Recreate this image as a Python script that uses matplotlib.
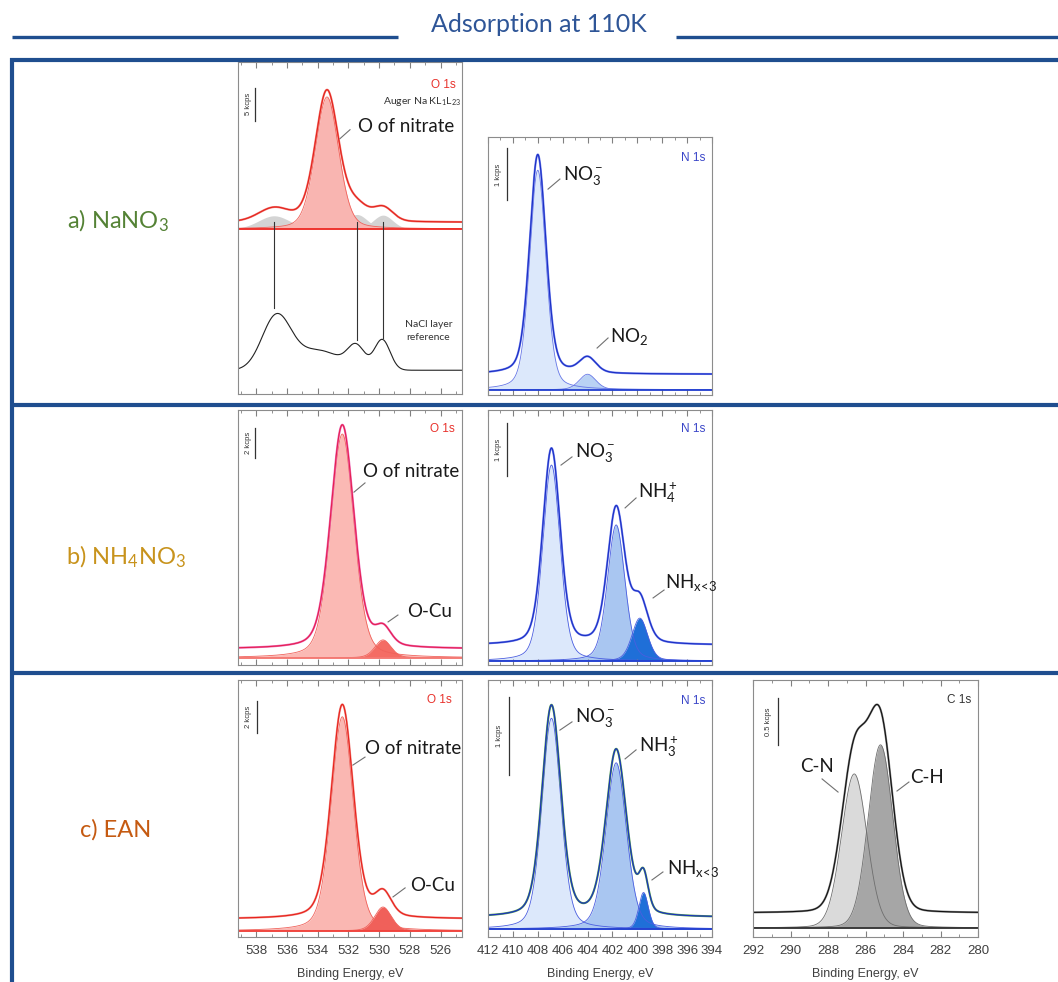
import numpy as np
import matplotlib.pyplot as plt
from matplotlib.lines import Line2D

plt.rcParams['font.family'] = ['Lato', 'DejaVu Sans']
plt.rcParams['mathtext.fontset'] = 'custom'
plt.rcParams['mathtext.rm'] = 'Lato'
plt.rcParams['mathtext.it'] = 'Lato:italic'
plt.rcParams['mathtext.bf'] = 'Lato:bold'

W, H = 1058, 982

# --- data (kcps, eV) ---
# a) NaNO3, O 1s
o1s_a_centers = [533.4]
o1s_a_heights = [20.0]
o1s_a_fwhm = [1.8]
auger_centers = [536.85, 531.45, 529.75]
auger_heights = [2.0, 2.2, 2.1]
auger_fwhm = [2.4, 1.6, 1.5]
o1s_a_bg = 1.0
nacl_centers = [536.7, 534.0, 531.5, 529.8]
nacl_heights = [8.0, 3.0, 3.3, 4.6]
nacl_fwhm = [2.2, 3.5, 1.3, 1.2]
nacl_bg = -21.4
auger_line_bottoms = [-12.0, -16.8, -16.5]

# a) NaNO3, N 1s  (NO3-, NO2)
n1s_a_centers = [408.0, 404.0]
n1s_a_heights = [4.23, 0.30]
n1s_a_fwhm = [1.55, 1.6]
n1s_a_bg = 0.30

# b) NH4NO3, O 1s  (O of nitrate, O-Cu)
o1s_b_centers = [532.4, 529.75]
o1s_b_heights = [14.9, 1.2]
o1s_b_fwhm = [1.8, 1.25]
o1s_b_bg = 0.6

# b) NH4NO3, N 1s  (NO3-, NH4+, NHx<3)
n1s_b_centers = [406.9, 401.7, 399.8]
n1s_b_heights = [3.7, 2.57, 0.81]
n1s_b_fwhm = [1.65, 1.65, 1.5]
n1s_b_bg = 0.30

# c) EAN, O 1s
o1s_c_centers = [532.4, 529.75]
o1s_c_heights = [13.4, 1.5]
o1s_c_fwhm = [1.7, 1.3]
o1s_c_bg = 0.75

# c) EAN, N 1s  (NO3-, NH3+, NHx<3)
n1s_c_centers = [406.9, 401.7, 399.5]
n1s_c_heights = [2.7, 2.13, 0.47]
n1s_c_fwhm = [1.8, 1.95, 0.9]
n1s_c_bg = 0.15

# c) EAN, C 1s  (C-N, C-H)
c1s_c_centers = [286.6, 285.2]
c1s_c_heights = [1.64, 1.95]
c1s_c_fwhm = [1.6, 1.55]
c1s_c_bg = 0.16

o1s_range = (539.2, 524.6)
n1s_range = (412.0, 394.0)
c1s_range = (292.0, 280.0)
o1s_ticks = [538, 536, 534, 532, 530, 528, 526]
n1s_ticks = [412, 410, 408, 406, 404, 402, 400, 398, 396, 394]
c1s_ticks = [292, 290, 288, 286, 284, 282, 280]

fig = plt.figure(figsize=(W / 100, H / 100), dpi=100)


def px_axes(l, t, r, b):
    return fig.add_axes([l / W, 1 - b / H, (r - l) / W, (b - t) / H])


def pvoigt(x, c, h, w, eta):
    u = (x - c) / w
    return h * ((1 - eta) * np.exp(-4 * np.log(2) * u ** 2) + eta / (1 + 4 * u ** 2))


def style(ax, xlim, ylim, ticks, labels):
    ax.set_xlim(xlim)
    ax.set_ylim(ylim)
    ax.set_xticks(ticks)
    ax.set_xticks(np.arange(min(ticks) - 1, max(ticks) + 2, 1), minor=True)
    ax.set_xlim(xlim)
    ax.set_yticks([])
    ax.tick_params(axis='x', which='both', direction='in', top=True, bottom=True,
                   color='#808080', labelsize=9.5, labelcolor='#404040',
                   labelbottom=labels, pad=6)
    ax.tick_params(axis='x', which='major', length=4)
    ax.tick_params(axis='x', which='minor', length=2.5)
    for lab in ax.get_xticklabels():
        lab.set_family('Liberation Sans')
    for s in ax.spines.values():
        s.set_color('#8c8c8c')
        s.set_linewidth(0.8)
    if labels:
        ax.set_xlabel('Binding Energy, eV', fontsize=9, color='#404040',
                      family='Liberation Sans', labelpad=8)


def scale_bar(ax, fx, tx, ytop, size, text):
    tr = ax.get_yaxis_transform()
    ax.plot([fx, fx], [ytop, ytop - size], transform=tr, color='#333333', lw=0.9)
    ax.text(tx, ytop - size / 2, text, transform=tr, rotation=90, fontsize=5.5,
            ha='center', va='center', color='#333333', family='Liberation Sans')


def tag(ax, fx, fy, text, color):
    ax.text(fx, fy, text, transform=ax.transAxes, ha='right', va='center',
            fontsize=8.5, color=color, family='Liberation Sans')


def label(ax, fx, fy, text, leader):
    ax.text(fx, fy, text, transform=ax.transAxes, ha='left', va='center',
            fontsize=13.5, color='#1a1a1a')
    (x0, y0), (x1, y1) = leader
    ax.plot([x0, x1], [y0, y1], transform=ax.transAxes, color='#707070', lw=0.8)


def draw_fit(ax, x, centers, heights, fwhm, eta, bg, fills, edge, raw, env, base):
    comps = [pvoigt(x, c, h, w, eta) for c, h, w in zip(centers, heights, fwhm)]
    for comp, fc in zip(comps, fills):
        ax.fill_between(x, 0, comp, color=fc, lw=0)
        ax.plot(x, comp, color=edge, lw=0.6)
    ax.axhline(0, color=base, lw=1.3)
    total = bg + np.sum(comps, axis=0)
    ax.plot(x, total, color=env, lw=1.5)
    ax.plot(x, total, color=raw, lw=0.8)
    return comps


nhx = r'NH$_{\mathrm{x}\!<\!\mathrm{3}}$'

# ---------------- row a ----------------
ax = px_axes(238, 62, 462, 394)
style(ax, o1s_range, (-25.0, 25.3), o1s_ticks, False)
x = np.linspace(*o1s_range, 900)
aug = [pvoigt(x, c, h, w, 0.1) for c, h, w in zip(auger_centers, auger_heights, auger_fwhm)]
for comp in aug:
    ax.fill_between(x, 0, comp, color='#d4d4d4', lw=0)
main = [pvoigt(x, c, h, w, 0.25) for c, h, w in zip(o1s_a_centers, o1s_a_heights, o1s_a_fwhm)]
for comp in main:
    ax.fill_between(x, 0, comp, color='#f9b5b1', lw=0)
    ax.plot(x, comp, color='#f0625b', lw=0.6)
ax.axhline(0, color='#ee2a24', lw=1.3)
total = o1s_a_bg + np.sum(main, axis=0) + np.sum(aug, axis=0)
ax.plot(x, total, color='#f47a74', lw=1.5)
ax.plot(x, total, color='#e3231c', lw=0.8)
nacl = nacl_bg + np.sum([pvoigt(x, c, h, w, 0.0) for c, h, w in
                         zip(nacl_centers, nacl_heights, nacl_fwhm)], axis=0)
ax.plot(x, nacl, color='#222222', lw=0.8)
for c, lb in zip(auger_centers, auger_line_bottoms):
    ax.plot([c, c], [o1s_a_bg, lb], color='#333333', lw=0.8)
tag(ax, 0.973, 0.931, 'O 1s', '#e8322c')
ax.text(0.995, 0.88, 'Auger Na KL$_1$L$_{23}$', transform=ax.transAxes, ha='right',
        va='center', fontsize=7.5, color='#333333')
label(ax, 0.536, 0.805, 'O of nitrate', ((0.455, 0.769), (0.50, 0.796)))
scale_bar(ax, 0.076, 0.045, 21.4, 5, '5 kcps')
ax.text(0.85, 0.19, 'NaCl layer\nreference', transform=ax.transAxes, ha='center',
        va='center', fontsize=7.5, color='#333333', linespacing=1.5)

ax = px_axes(488, 137, 712, 395)
style(ax, n1s_range, (-0.1, 4.87), n1s_ticks, False)
x = np.linspace(*n1s_range, 900)
draw_fit(ax, x, n1s_a_centers, n1s_a_heights, n1s_a_fwhm, 0.3, n1s_a_bg,
         ['#dce8fb', '#b9d2f4'], '#6677e6', '#1b2fc4', '#7080ee', '#2440d0')
tag(ax, 0.969, 0.919, 'N 1s', '#3a46c8')
label(ax, 0.335, 0.849, 'NO$_3^-$', ((0.268, 0.798), (0.321, 0.837)))
label(ax, 0.545, 0.225, 'NO$_2$', ((0.487, 0.182), (0.536, 0.221)))
scale_bar(ax, 0.085, 0.045, 4.65, 1, '1 kcps')

# ---------------- row b ----------------
ax = px_axes(238, 410, 462, 665)
style(ax, o1s_range, (-0.47, 16.5), o1s_ticks, False)
x = np.linspace(*o1s_range, 900)
draw_fit(ax, x, o1s_b_centers, o1s_b_heights, o1s_b_fwhm, 0.3, o1s_b_bg,
         ['#fbb9b4', '#f46c64'], '#f0625b', '#e5204f', '#ee6ab8', '#f47a74')
tag(ax, 0.969, 0.925, 'O 1s', '#e8322c')
label(ax, 0.558, 0.757, 'O of nitrate', ((0.518, 0.678), (0.567, 0.714)))
label(ax, 0.754, 0.208, 'O-Cu', ((0.670, 0.169), (0.714, 0.196)))
scale_bar(ax, 0.076, 0.045, 15.3, 2, '2 kcps')

ax = px_axes(488, 410, 712, 665)
style(ax, n1s_range, (-0.075, 4.74), n1s_ticks, False)
x = np.linspace(*n1s_range, 900)
draw_fit(ax, x, n1s_b_centers, n1s_b_heights, n1s_b_fwhm, 0.3, n1s_b_bg,
         ['#dce8fb', '#a9c6f1', '#1f6fd8'], '#4a5ee0', '#1b2fc4', '#7080ee', '#2440d0')
tag(ax, 0.969, 0.925, 'N 1s', '#3a46c8')
label(ax, 0.388, 0.835, 'NO$_3^-$', ((0.326, 0.784), (0.375, 0.816)))
label(ax, 0.670, 0.675, 'NH$_4^+$', ((0.612, 0.616), (0.661, 0.655)))
label(ax, 0.790, 0.322, nhx, ((0.737, 0.263), (0.786, 0.294)))
scale_bar(ax, 0.085, 0.045, 4.49, 1, '1 kcps')

# ---------------- row c ----------------
ax = px_axes(238, 680, 462, 937)
style(ax, o1s_range, (-0.375, 15.7), o1s_ticks, True)
x = np.linspace(*o1s_range, 900)
draw_fit(ax, x, o1s_c_centers, o1s_c_heights, o1s_c_fwhm, 0.3, o1s_c_bg,
         ['#fab7b2', '#f0605a'], '#f0625b', '#e8211a', '#f08a85', '#f0423b')
tag(ax, 0.955, 0.922, 'O 1s', '#e8322c')
label(ax, 0.567, 0.735, 'O of nitrate', ((0.513, 0.669), (0.567, 0.700)))
label(ax, 0.768, 0.202, 'O-Cu', ((0.692, 0.156), (0.746, 0.191)))
scale_bar(ax, 0.085, 0.045, 14.4, 2, '2 kcps')

ax = px_axes(488, 680, 712, 937)
style(ax, n1s_range, (-0.1, 3.19), n1s_ticks, True)
x = np.linspace(*n1s_range, 900)
draw_fit(ax, x, n1s_c_centers, n1s_c_heights, n1s_c_fwhm, 0.3, n1s_c_bg,
         ['#dce8fb', '#a9c6f1', '#1f6fd8'], '#4a5ee0', '#1b2fc4', '#4f9a4f', '#2440d0')
tag(ax, 0.969, 0.918, 'N 1s', '#3a46c8')
label(ax, 0.388, 0.856, 'NO$_3^-$', ((0.321, 0.805), (0.375, 0.837)))
label(ax, 0.674, 0.739, 'NH$_3^+$', ((0.612, 0.693), (0.661, 0.728)))
label(ax, 0.799, 0.268, nhx, ((0.732, 0.222), (0.781, 0.253)))
scale_bar(ax, 0.095, 0.05, 2.97, 1, '1 kcps')

ax = px_axes(753, 680, 978, 937)
style(ax, c1s_range, (-0.096, 2.64), c1s_ticks, True)
x = np.linspace(*c1s_range, 900)
draw_fit(ax, x, c1s_c_centers, c1s_c_heights, c1s_c_fwhm, 0.1, c1s_c_bg,
         ['#dadada', '#a6a6a6'], '#6e6e6e', '#111111', '#8a8a8a', '#333333')
tag(ax, 0.969, 0.922, 'C 1s', '#333333')
label(ax, 0.209, 0.665, 'C-N', ((0.307, 0.615), (0.378, 0.564)))
label(ax, 0.698, 0.619, 'C-H', ((0.640, 0.568), (0.693, 0.603)))
scale_bar(ax, 0.11, 0.067, 2.45, 0.5, '0.5 kcps')

# ---------------- frame, title, row names ----------------
blue = '#1f4e8f'


def fig_line(x0, y0, x1, y1, lw):
    fig.add_artist(Line2D([x0 / W, x1 / W], [1 - y0 / H, 1 - y1 / H],
                          color=blue, lw=lw, solid_capstyle='butt', zorder=10))


fig_line(12, 37, 398, 37, 2.4)
fig_line(676, 37, 1058, 37, 2.4)
fig_line(10, 60, 1058, 60, 3.0)
fig_line(12, 58, 12, 982, 3.0)
fig_line(12, 405, 1058, 405, 3.0)
fig_line(12, 673, 1058, 673, 3.0)
fig.text(539 / W, 1 - 25 / H, 'Adsorption at 110K', ha='center', va='center',
         fontsize=18, color='#2e5597')

fig.text(67 / W, 1 - 221 / H, 'a) NaNO$_3$', ha='left', va='center',
         fontsize=17, color='#548235')
fig.text(66 / W, 1 - 557 / H, 'b) NH$_4$NO$_3$', ha='left', va='center',
         fontsize=17, color='#c8931c')
fig.text(80 / W, 1 - 830 / H, 'c) EAN', ha='left', va='center',
         fontsize=17, color='#c55a11')

fig.savefig('out.png', dpi=100)
